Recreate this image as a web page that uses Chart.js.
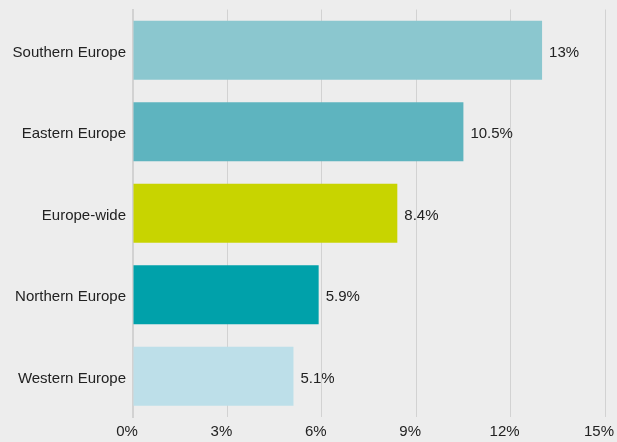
<!DOCTYPE html>
<html>
<head>
<meta charset="utf-8">
<script src="https://cdn.jsdelivr.net/npm/chart.js@4/dist/chart.umd.min.js"></script>
<style>
  html, body { margin: 0; padding: 0; background: #ededed; }
  #wrap { width: 617px; height: 442px; }
</style>
</head>
<body>
<div id="wrap"><canvas id="regionChart" width="617" height="442"></canvas></div>
<script>
// share by region, in percent
const regions = ['Southern Europe', 'Eastern Europe', 'Europe-wide', 'Northern Europe', 'Western Europe'];
const shares = [13, 10.5, 8.4, 5.9, 5.1];
const barColors = ['#8bc7cf', '#5eb4bf', '#c8d400', '#00a1aa', '#bddfe9'];
const xTicks = [0, 3, 6, 9, 12, 15];

const FONT = 'Liberation Sans, Arial, sans-serif';

// writes the value just past the end of each bar
const valueLabels = {
  id: 'valueLabels',
  afterDatasetsDraw(chart) {
    const ctx = chart.ctx;
    const meta = chart.getDatasetMeta(0);
    ctx.save();
    ctx.font = '15px ' + FONT;
    ctx.fillStyle = '#222';
    ctx.textAlign = 'left';
    ctx.textBaseline = 'middle';
    meta.data.forEach((bar, i) => {
      ctx.fillText(shares[i] + '%', bar.x + 7, bar.y + 2.5);
    });
    ctx.restore();
  }
};

new Chart(document.getElementById('regionChart'), {
  type: 'bar',
  data: {
    labels: regions,
    datasets: [{
      data: shares,
      backgroundColor: barColors,
      borderWidth: 0,
      barPercentage: 0.723,
      categoryPercentage: 1
    }]
  },
  options: {
    indexAxis: 'y',
    responsive: false,
    animation: false,
    layout: { padding: { top: 9.5, right: 12, bottom: 3, left: 0 } },
    plugins: {
      legend: { display: false },
      tooltip: { enabled: false }
    },
    scales: {
      x: {
        min: 0,
        max: 15,
        afterBuildTicks: (scale) => { scale.ticks = xTicks.map(v => ({ value: v })); },
        afterFit: (scale) => {
          scale.paddingLeft = 0;
          scale.paddingRight = 0;
          scale.height = 22;
        },
        grid: { color: '#d2d2d2', lineWidth: 1, drawTicks: false },
        border: { display: false },
        ticks: {
          padding: 6,
          labelOffset: -6,
          color: '#222',
          font: { family: FONT, size: 15 },
          callback: (v) => v + '%'
        }
      },
      y: {
        afterFit: (scale) => {
          scale.width = 133;
          scale.paddingTop = 0;
          scale.paddingBottom = 0;
        },
        grid: { display: false, drawTicks: false },
        border: { display: true, color: '#d2d2d2', width: 2 },
        ticks: {
          padding: 7,
          labelOffset: 2.5,
          color: '#222',
          font: { family: FONT, size: 15 }
        }
      }
    }
  },
  plugins: [valueLabels]
});
</script>
</body>
</html>
